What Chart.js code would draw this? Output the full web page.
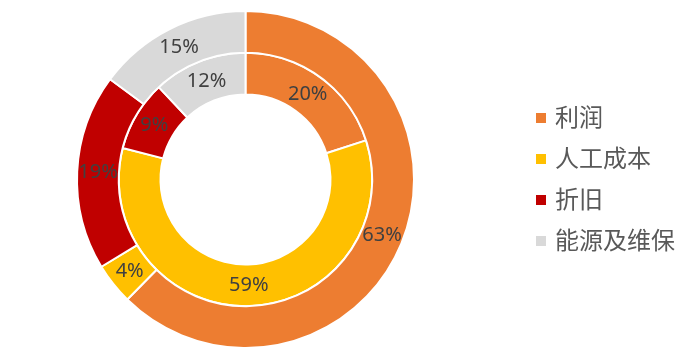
<!DOCTYPE html>
<html>
<head>
<meta charset="utf-8">
<script src="https://cdn.jsdelivr.net/npm/chart.js@4/dist/chart.umd.min.js"></script>
<style>
  html, body { margin: 0; padding: 0; background: #fff; }
  #wrap { position: relative; width: 698px; height: 357px; overflow: hidden; }
  #c { position: absolute; left: 0; top: 0; }
  #legend { position: absolute; left: 536px; top: 99px; margin: 0; padding: 0; list-style: none;
            font-family: "Noto Sans CJK SC", sans-serif; font-size: 24px; color: #595959; }
  #legend li { height: 41px; line-height: 34px; white-space: nowrap; }
  #legend span.box { display: inline-block; width: 10px; height: 10px; margin-right: 9px; vertical-align: 3px; }
</style>
</head>
<body>
<div id="wrap">
  <canvas id="c" width="698" height="357"></canvas>
  <ul id="legend"></ul>
</div>
<script>
const categories = ['利润', '人工成本', '折旧', '能源及维保'];
const outerValues = [63, 4, 19, 15];
const innerValues = [20, 59, 9, 12];
const colors = ['#ED7D31', '#FFC000', '#C00000', '#D9D9D9'];

const legendEl = document.getElementById('legend');
categories.forEach((name, i) => {
  const li = document.createElement('li');
  const box = document.createElement('span');
  box.className = 'box';
  box.style.background = colors[i];
  li.appendChild(box);
  li.appendChild(document.createTextNode(name));
  legendEl.appendChild(li);
});

const labelPlugin = {
  id: 'pctLabels',
  afterDatasetsDraw(chart) {
    const ctx = chart.ctx;
    ctx.save();
    ctx.font = '20px "Noto Sans", sans-serif';
    ctx.fillStyle = '#404040';
    ctx.textAlign = 'center';
    ctx.textBaseline = 'middle';
    chart.data.datasets.forEach((ds, di) => {
      const meta = chart.getDatasetMeta(di);
      meta.data.forEach((arc, i) => {
        const p = arc.getProps(['x', 'y', 'startAngle', 'endAngle', 'innerRadius', 'outerRadius'], true);
        const a = (p.startAngle + p.endAngle) / 2;
        const r = (p.innerRadius + p.outerRadius) / 2;
        ctx.fillText(ds.data[i] + '%', p.x + Math.cos(a) * r, p.y + Math.sin(a) * r);
      });
    });
    ctx.restore();
  }
};

new Chart(document.getElementById('c'), {
  type: 'doughnut',
  data: {
    labels: categories,
    datasets: [
      { data: outerValues, backgroundColor: colors, borderColor: '#ffffff', borderWidth: 2 },
      { data: innerValues, backgroundColor: colors, borderColor: '#ffffff', borderWidth: 2 }
    ]
  },
  options: {
    responsive: false,
    animation: false,
    cutout: 85,
    layout: { padding: { left: 76, top: 10, right: 283, bottom: 8 } },
    plugins: { legend: { display: false }, tooltip: { enabled: false } }
  },
  plugins: [labelPlugin]
});
</script>
</body>
</html>
